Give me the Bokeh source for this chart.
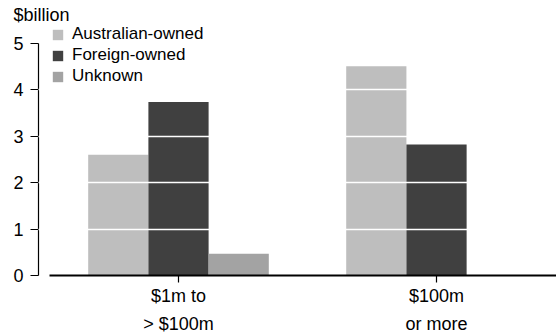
from bokeh.plotting import figure
from bokeh.models import (Range1d, FixedTicker, Legend, LegendItem, Title,
                          ColumnDataSource)
from bokeh.embed import file_html
from bokeh.resources import INLINE

# ---- data ----
categories = ["$1m to\n> $100m", "$100m\nor more"]
series = ["Australian-owned", "Foreign-owned", "Unknown"]
australian = [2.6, 4.5]
foreign = [3.73, 2.82]
unknown = [0.47, 0.0]
y_ticks = [0, 1, 2, 3, 4, 5]
colors = ["#bebebe", "#404040", "#a3a3a3"]

FONT = "Liberation Sans"
FS = "18px"
FS_LEG = "17px"

centers = [i + 0.5 for i in range(len(categories))]
bar_w = 0.7 / 3

p = figure(width=556, height=336, output_backend="svg", toolbar_location=None,
           x_range=Range1d(-0.0426, 1.965), y_range=Range1d(0, 5.40),
           min_border_left=38, min_border_right=0, min_border_top=24,
           min_border_bottom=60)
p.outline_line_color = None
p.background_fill_color = "white"
p.border_fill_color = "white"

renderers = []
for k, (vals, col) in enumerate(zip([australian, foreign, unknown], colors)):
    xs = [c + (k - 1) * bar_w for c in centers]
    src = ColumnDataSource(dict(x=xs, top=vals))
    r = p.vbar(x="x", top="top", width=bar_w, bottom=0, source=src,
               fill_color=col, line_color=None)
    renderers.append(r)

# grid: white lines drawn over the bars
p.xgrid.visible = False
p.ygrid.ticker = FixedTicker(ticks=y_ticks[1:-1])
p.ygrid.grid_line_color = "white"
p.ygrid.grid_line_width = 1.5
p.ygrid.level = "annotation"

# y axis
ya = p.yaxis[0]
ya.ticker = FixedTicker(ticks=y_ticks)
ya.bounds = (y_ticks[0], y_ticks[-1])
ya.axis_line_width = 1.2
ya.major_tick_line_width = 1.2
ya.major_tick_out = 8
ya.major_tick_in = 0
ya.minor_tick_line_color = None
ya.major_label_standoff = 7
ya.major_label_text_font = FONT
ya.major_label_text_font_size = FS
ya.major_label_text_color = "black"

# x axis
xa = p.xaxis[0]
xa.ticker = FixedTicker(ticks=centers)
xa.bounds = (0, len(categories))
xa.major_label_overrides = {c: lab for c, lab in zip(centers, categories)}
xa.axis_line_width = 2
xa.major_tick_out = 7
xa.major_tick_in = 0
xa.major_tick_line_width = 1.2
xa.minor_tick_line_color = None
xa.major_label_standoff = 3
xa.major_label_text_font = FONT
xa.major_label_text_font_size = FS
xa.major_label_text_color = "black"
xa.major_label_text_line_height = 1.42

legend = Legend(items=[LegendItem(label=s, renderers=[r]) for s, r in zip(series, renderers)],
                location=(13, 189), orientation="vertical",
                glyph_width=13, glyph_height=13, label_standoff=8,
                spacing=1, padding=0, margin=0,
                border_line_color=None, background_fill_alpha=0,
                label_text_font=FONT, label_text_font_size=FS_LEG,
                label_text_color="black")
p.add_layout(legend, "center")

p.add_layout(Title(text="$billion", align="left", offset=-25, standoff=0,
                   text_font=FONT, text_font_size=FS, text_font_style="normal",
                   text_color="black"), "above")

open("out.html", "w").write(file_html(p, INLINE))
